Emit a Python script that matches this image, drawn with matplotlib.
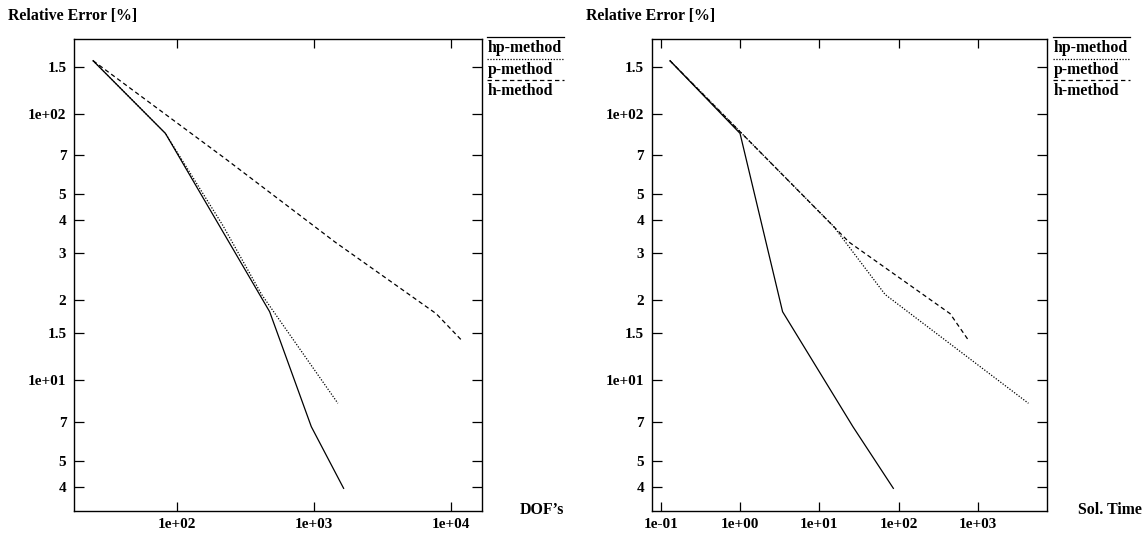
import matplotlib
matplotlib.use("Agg")
import matplotlib.pyplot as plt
from matplotlib.lines import Line2D

# --- data ---
# relative error [%] of each method (same runs in both panels)
err_hp = [158, 84.4, 18.1, 6.71, 3.94]
err_p = [158, 84.4, 38, 21, 8.21]
err_h = [158, 68, 33, 17.8, 14.2]

# degrees of freedom
dof_hp = [24.4, 82.3, 475, 957, 1648]
dof_p = [24.4, 82.3, 217, 415, 1496]
dof_h = [24.4, 224, 1430, 7813, 11900]

# solution time
time_hp = [0.131, 1.0, 3.44, 26.5, 85.7]
time_p = [0.131, 1.05, 14.9, 67.5, 4325]
time_h = [0.131, 2.15, 23.7, 445, 752]

yticks = [150, 100, 70, 50, 40, 30, 20, 15, 10, 7, 5, 4]
ylabels = ['1.5', '1e+02', '7', '5', '4', '3', '2', '1.5', '1e+01', '7', '5', '4']
xticks_left = [1e2, 1e3, 1e4]
xlabels_left = ['1e+02', '1e+03', '1e+04']
xticks_right = [1e-1, 1e0, 1e1, 1e2, 1e3]
xlabels_right = ['1e-01', '1e+00', '1e+01', '1e+02', '1e+03']

W, H = 1146, 534
FONT = dict(family='Liberation Serif', weight='bold', size=11)
FONT_BIG = dict(family='Liberation Serif', weight='bold', size=11.4)

fig = plt.figure(figsize=(W / 100, H / 100), dpi=100)


def fx(px):
    return px / W


def fy(py):
    return 1 - py / H


def panel(left_px, right_px, xlim, xs, xticks, xlabels, xlabel, xlabel_px, legend_px):
    ax = fig.add_axes([fx(left_px), fy(511), fx(right_px - left_px), (511 - 39) / H])
    ax.set_xscale('log')
    ax.set_yscale('log')
    ax.plot(xs[0], err_hp, color='black', lw=0.9, ls='-')
    ax.plot(xs[1], err_p, color='black', lw=0.9, ls=(0, (1, 1.3)))
    ax.plot(xs[2], err_h, color='black', lw=0.9, ls=(0, (3.5, 2.5)))
    ax.set_xlim(*xlim)
    ax.set_ylim(3.24, 190.6)
    ax.minorticks_off()
    ax.set_yticks(yticks)
    ax.set_yticklabels(ylabels, fontdict=FONT)
    ax.set_xticks(xticks)
    ax.set_xticklabels(xlabels, fontdict=FONT)
    ax.minorticks_off()
    ax.tick_params(axis='y', direction='in', length=7.2, width=0.9,
                   left=True, right=True, pad=5.5)
    ax.tick_params(axis='x', direction='in', length=6.5, width=0.9,
                   bottom=True, top=True, pad=5)
    for s in ax.spines.values():
        s.set_linewidth(1.0)
        s.set_color('black')

    fig.text(fx(left_px - 66), fy(16), 'Relative Error [%]', ha='left', va='center', **FONT_BIG)
    fig.text(fx(xlabel_px), fy(510), xlabel, ha='left', va='center', **FONT_BIG)

    # legend: line above each label
    names = ['hp-method', 'p-method', 'h-method']
    styles = ['-', (0, (1, 1.3)), (0, (3.5, 2.5))]
    for i, (name, st) in enumerate(zip(names, styles)):
        ly = 37 + 21.5 * i
        fig.add_artist(Line2D([fx(legend_px), fx(legend_px + 77)], [fy(ly), fy(ly)],
                              transform=fig.transFigure, color='black', lw=0.9, ls=st))
        fig.text(fx(legend_px + 1), fy(ly + 11), name, ha='left', va='center', **FONT_BIG)
    return ax


panel(74, 481.7, (17.7, 16800), (dof_hp, dof_p, dof_h), xticks_left, xlabels_left,
      'DOF\u2019s', 520, 487)
panel(651.7, 1047.3, (0.077, 7480), (time_hp, time_p, time_h), xticks_right, xlabels_right,
      'Sol. Time', 1078, 1053)

fig.savefig('out.png', dpi=100)
